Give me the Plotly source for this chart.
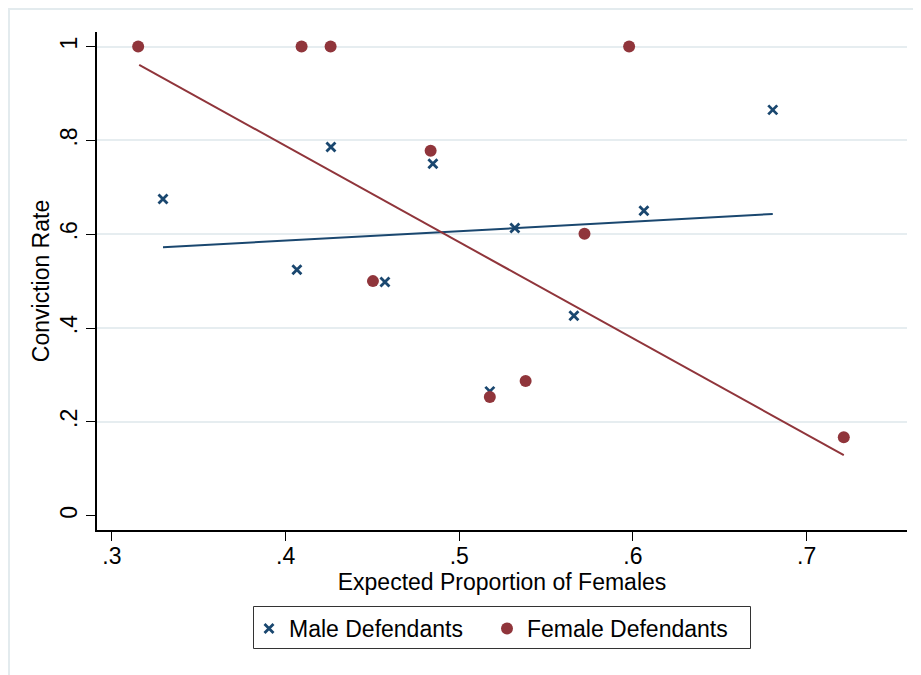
import plotly.graph_objects as go

# Data
male_x = [0.3294, 0.4065, 0.4261, 0.4848, 0.4572, 0.5320, 0.5176, 0.5660, 0.6063, 0.6805]
male_y = [0.675, 0.524, 0.786, 0.750, 0.498, 0.613, 0.265, 0.426, 0.650, 0.865]
female_x = [0.3151, 0.4092, 0.4259, 0.5978, 0.4835, 0.4503, 0.5176, 0.5382, 0.5721, 0.7214]
female_y = [1.0, 1.0, 1.0, 1.0, 0.778, 0.5, 0.253, 0.287, 0.601, 0.167]

# Linear fit lines (endpoints)
male_fit_x = [0.3294, 0.6805]
male_fit_y = [0.572, 0.643]
female_fit_x = [0.3157, 0.7214]
female_fit_y = [0.961, 0.129]

x_ticks = [0.3, 0.4, 0.5, 0.6, 0.7]
x_tick_labels = [".3", ".4", ".5", ".6", ".7"]
y_ticks = [0, 0.2, 0.4, 0.6, 0.8, 1.0]
y_tick_labels = ["0", ".2", ".4", ".6", ".8", "1"]

NAVY = "#1a476f"
MAROON = "#90353b"
FONT = "Liberation Sans, Arial, sans-serif"
FS = 23

fig = go.Figure()
fig.add_trace(go.Scatter(
    x=male_x, y=male_y, mode="markers", name="Male Defendants", legend="legend",
    marker=dict(symbol="x-thin", size=9, color=NAVY, line=dict(width=2.8, color=NAVY)),
))
fig.add_trace(go.Scatter(
    x=female_x, y=female_y, mode="markers", name="Female Defendants", legend="legend2",
    marker=dict(symbol="circle", size=12, color=MAROON, line=dict(width=0)),
))
fig.add_trace(go.Scatter(
    x=male_fit_x, y=male_fit_y, mode="lines", showlegend=False,
    line=dict(color=NAVY, width=2),
))
fig.add_trace(go.Scatter(
    x=female_fit_x, y=female_fit_y, mode="lines", showlegend=False,
    line=dict(color=MAROON, width=2),
))

# The page body adds an 8px offset; figure laid out in page pixels minus 8
OFF = 8
W, H = 921 - OFF, 675 - OFF
L, T = 97 - OFF, 32 - OFF
R = W - (907 - OFF)
B = H - (530 - OFF)
pw, ph = W - L - R, H - T - B

def px_to_paper_x(p):
    return (p - OFF - L) / pw

def px_to_paper_y(p):
    return (H - B - (p - OFF)) / ph

# Outer light frame (cropped at the right and bottom)
fig.add_shape(type="rect", xref="paper", yref="paper",
              x0=px_to_paper_x(9), x1=px_to_paper_x(940),
              y0=px_to_paper_y(700), y1=px_to_paper_y(9),
              line=dict(color="#e3ebee", width=2), fillcolor="rgba(0,0,0,0)", layer="below")
# Legend box
fig.add_shape(type="rect", xref="paper", yref="paper",
              x0=px_to_paper_x(253.5), x1=px_to_paper_x(750.5),
              y0=px_to_paper_y(648.5), y1=px_to_paper_y(606.5),
              line=dict(color="#333333", width=1), fillcolor="white", layer="below")

legend_common = dict(
    orientation="h", xanchor="left", yanchor="top",
    borderwidth=0, bgcolor="rgba(0,0,0,0)",
    font=dict(family=FONT, size=FS, color="black"),
    itemwidth=30,
)

fig.update_layout(
    width=W, height=H,
    margin=dict(l=L, r=R, t=T, b=B),
    paper_bgcolor="white", plot_bgcolor="white",
    font=dict(family=FONT, size=FS, color="black"),
    showlegend=True,
    legend=dict(x=px_to_paper_x(249), y=px_to_paper_y(607), **legend_common),
    legend2=dict(x=px_to_paper_x(487), y=px_to_paper_y(607), **legend_common),
    xaxis=dict(
        range=[0.2914, 0.7578], tickvals=x_ticks, ticktext=x_tick_labels,
        showgrid=False, zeroline=False, showline=True, linecolor="black", linewidth=1.5,
        ticks="outside", ticklen=9, tickwidth=1.2, tickcolor="black",
        ticklabelstandoff=-4,
        title=dict(text="Expected Proportion of Females", standoff=2,
                   font=dict(family=FONT, size=FS)),
        tickfont=dict(family=FONT, size=FS),
    ),
    yaxis=dict(
        range=[-0.0305, 1.031], tickvals=y_ticks, ticktext=y_tick_labels, tickangle=-90,
        showgrid=True, gridcolor="#e6edf0", gridwidth=1.5,
        zeroline=True, zerolinecolor="rgba(0,0,0,0)",
        showline=True, linecolor="black", linewidth=1.5,
        ticks="outside", ticklen=9, tickwidth=1.2, tickcolor="black",
        title=dict(text="Conviction Rate", standoff=0, font=dict(family=FONT, size=FS)),
        tickfont=dict(family=FONT, size=FS),
    ),
)

fig.write_html("out.html")
